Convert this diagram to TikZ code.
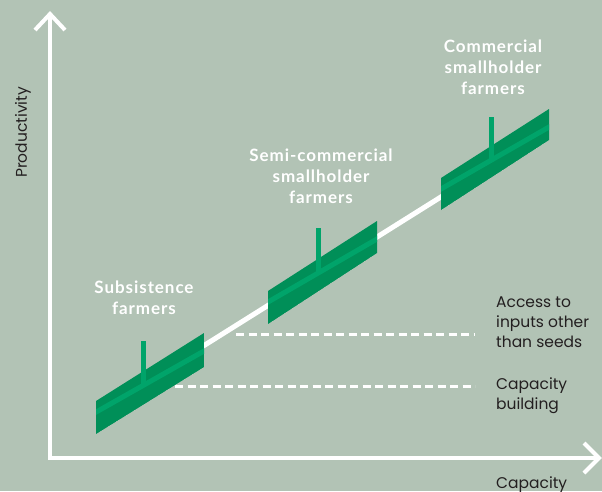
\documentclass[tikz,border=0pt]{standalone}
\usepackage{fontspec}
\setmainfont{Lato}
\newfontfamily\labfont[LetterSpace=5.5]{Lato}
\newfontfamily\notefont{Poppins}
\definecolor{bg}{RGB}{178,195,181}
\definecolor{bandgreen}{RGB}{0,143,88}
\definecolor{lightgreen}{RGB}{0,164,106}
\definecolor{txt}{RGB}{35,31,32}
\tikzset{
  axisline/.style={white,line width=4pt},
  chevron/.style={white,line width=4pt,line join=miter},
  stripe/.style={lightgreen,line width=5pt},
  stem/.style={lightgreen,line width=5pt},
  dashline/.style={white,line width=3pt,dash pattern=on 8pt off 4.5pt},
  lab/.style={white,font=\labfont\bfseries\fontsize{17}{21}\selectfont,anchor=base,inner sep=0pt},
  note/.style={txt,font=\notefont\fontsize{15.5}{20}\selectfont,anchor=base west,inner sep=0pt},
}
\begin{document}
\begin{tikzpicture}[x=1pt,y=-1pt]
\useasboundingbox (0,0) rectangle (602,491);
\fill[bg] (0,0) rectangle (602,491);
% axes
\coordinate (origin) at (50,458);
\coordinate (ytip) at (50,14);
\coordinate (xtip) at (599,458);
\draw[axisline] (50,460) -- (ytip);
\draw[axisline] (48,458) -- (xtip);
\draw[chevron] (35,30) -- (ytip) -- (65,30);
\draw[chevron] (584,443) -- (xtip) -- (584,473);
% white trend line
\coordinate (tl1) at (150,379.4);
\coordinate (tl2) at (500,159.9);
\draw[white,line width=5pt] (tl1) -- (tl2);
% dashed lines
\coordinate (d1a) at (236,334);
\coordinate (d1b) at (475,334);
\coordinate (d2a) at (175,386.5);
\coordinate (d2b) at (475,386.5);
\draw[dashline] (d1a) -- (d1b);
\draw[dashline] (d2a) -- (d2b);
% band 1
\begin{scope}
\path[clip] (96,401) -- (204,333) -- (204,367) -- (96,434) -- cycle;
\fill[bandgreen] (96,401) -- (204,333) -- (204,367) -- (96,434) -- cycle;
\draw[stripe] (90,415.5) -- (210,347.6);
\end{scope}
\draw[stem] (143,341) -- (143,386);
% band 2
\begin{scope}
\path[clip] (268,291) -- (377,221) -- (377,253) -- (268,324) -- cycle;
\fill[bandgreen] (268,291) -- (377,221) -- (377,253) -- (268,324) -- cycle;
\draw[stripe] (262,305.5) -- (383,235.5);
\end{scope}
\draw[stem] (318,228) -- (318,273);
% band 3
\begin{scope}
\path[clip] (441,178) -- (549,109) -- (549,140) -- (441,210) -- cycle;
\fill[bandgreen] (441,178) -- (549,109) -- (549,140) -- (441,210) -- cycle;
\draw[stripe] (435,192.4) -- (555,123.6);
\end{scope}
\draw[stem] (491,117) -- (491,160);
% labels
\node[lab] (s1) at (144,293) {Subsistence};
\node[lab] (s2) at (144,314) {farmers};
\node[lab] (m1) at (321,161) {Semi-commercial};
\node[lab] (m2) at (321,182) {smallholder};
\node[lab] (m3) at (321,203) {farmers};
\node[lab] (c1) at (493,52) {Commercial};
\node[lab] (c2) at (493,73) {smallholder};
\node[lab] (c3) at (493,94) {farmers};
% notes
\node[note] (a1) at (496,307) {Access to};
\node[note] (a2) at (496,327) {inputs other};
\node[note] (a3) at (496,347) {than seeds};
\node[note] (b1) at (496,389) {Capacity};
\node[note] (b2) at (496,409) {building};
\node[note] (xl) at (496,488.5) {Capacity};
\node[note,anchor=base,rotate=90] (yl) at (27,132.5) {Productivity};
\end{tikzpicture}
\end{document}
